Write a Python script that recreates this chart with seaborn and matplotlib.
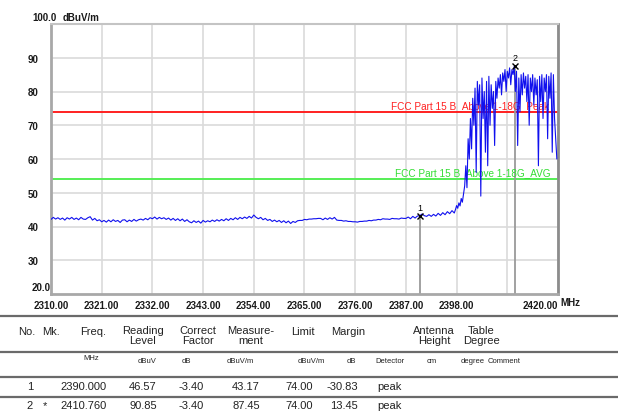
import numpy as np
import pandas as pd
import seaborn as sns
import matplotlib.pyplot as plt

# sweep 1: 2310.0 - 2397.5 MHz every 0.5 MHz (noise floor)
flat_start, flat_step = 2310.0, 0.5
flat_level = [
    42.1, 42.7, 42.2, 42.6, 42.1, 42.5, 41.9, 42.6, 42.2, 42.7, 42.1, 42.5, 42.0, 42.7, 42.2, 42.1, 42.6, 42.9, 41.9, 42.4,
    41.7, 42.0, 41.4, 41.8, 41.3, 41.9, 41.4, 42.0, 41.5, 41.8, 41.2, 41.9, 42.0, 41.4, 41.9, 41.5, 42.1, 41.6, 42.0, 42.2,
    41.9, 42.4, 42.0, 42.6, 42.3, 42.8, 42.2, 42.7, 42.3, 42.6, 42.1, 42.5, 41.9, 42.4, 41.8, 42.3, 41.7, 42.2, 41.5, 42.0,
    41.4, 41.1, 41.7, 41.2, 41.6, 41.0, 41.8, 41.3, 41.7, 41.4, 41.9, 41.5, 42.0, 41.6, 42.1, 41.7, 42.3, 41.8, 42.4, 42.0,
    42.6, 42.1, 42.7, 42.3, 42.8, 42.4, 43.0, 42.5, 43.4, 42.7, 42.3, 42.7, 42.0, 42.4, 41.8, 42.1, 41.5, 41.9, 41.4, 41.8,
    41.2, 41.7, 41.1, 41.6, 40.9, 41.5, 41.2, 41.7, 41.8, 41.8, 42.1, 42.0, 42.2, 42.2, 42.3, 42.3, 42.4, 42.4, 42.0, 42.5,
    42.1, 42.6, 42.2, 42.7, 41.9, 41.8, 41.8, 41.6, 41.7, 41.5, 41.5, 41.4, 41.4, 41.3, 41.5, 41.5, 41.6, 41.6, 41.8, 41.7,
    41.9, 41.9, 42.1, 42.0, 42.3, 42.2, 42.2, 42.1, 42.4, 42.3, 42.3, 42.2, 42.5, 42.4, 42.4, 42.8, 42.3, 43.0, 42.5, 43.1,
    43.2, 43.7, 43.2, 43.0, 43.5, 43.0, 43.6, 43.1, 43.9, 43.3, 44.1, 43.5, 44.4, 43.8, 44.7, 44.0,
]

# sweep 2: 2397.75 - 2420.0 MHz every 0.25 MHz (carrier)
band_start, band_step = 2397.75, 0.25
band_level = [
    45.0, 46.2, 45.4, 47.0, 46.1, 48.3, 47.2, 49.5,
    52.0, 58.0, 51.5, 66.0, 60.0, 72.0, 63.0, 78.0,
    70.0, 81.0, 56.0, 83.0, 76.0, 82.0, 49.0, 84.0,
    72.0, 80.0, 62.0, 83.0, 58.0, 84.5, 70.0, 82.0,
    75.0, 80.0, 64.0, 83.0, 78.0, 84.0, 81.0, 85.0,
    79.0, 85.5, 83.0, 86.5, 80.0, 86.0, 84.0, 87.0,
    82.0, 86.5, 85.0, 87.45, 80.0, 86.0, 64.0, 84.0,
    74.0, 85.0, 79.0, 85.5, 81.0, 84.5, 77.0, 85.0,
    70.0, 84.0, 80.0, 85.0, 76.0, 84.0, 79.0, 83.5,
    58.0, 84.5, 77.0, 85.0, 72.0, 84.0, 80.0, 85.0,
    66.0, 84.5, 78.0, 85.5, 62.0, 85.0, 72.0, 66.0, 60.0,
]

limit_peak = 74.0
limit_avg = 54.0
limit_peak_name = "FCC Part 15 B_Above 1-18G_Peak"
limit_avg_name = "FCC Part 15 B_Above 1-18G_AVG"

marker_no = ["1", "2"]
marker_freq = [2390.000, 2410.760]
marker_level = [43.17, 87.45]

x_ticks = [2310, 2321, 2332, 2343, 2354, 2365, 2376, 2387, 2398, 2409, 2420]
x_labels = ["2310.00", "2321.00", "2332.00", "2343.00", "2354.00", "2365.00",
            "2376.00", "2387.00", "2398.00", "", "2420.00"]
y_ticks = [30, 40, 50, 60, 70, 80, 90]

# result table
tbl_no = ["1", "2"]
tbl_mk = ["", "*"]
tbl_freq = ["2390.000", "2410.760"]
tbl_reading = ["46.57", "90.85"]
tbl_correct = ["-3.40", "-3.40"]
tbl_meas = ["43.17", "87.45"]
tbl_limit = ["74.00", "74.00"]
tbl_margin = ["-30.83", "13.45"]
tbl_detector = ["peak", "peak"]

freq = np.concatenate([flat_start + flat_step * np.arange(len(flat_level)),
                       band_start + band_step * np.arange(len(band_level))])
df = pd.DataFrame({"freq": freq, "level": flat_level + band_level})

sns.set_style("white")
plt.rcParams["font.family"] = ["Liberation Sans", "DejaVu Sans"]

W, H = 618, 414
fig = plt.figure(figsize=(W / 100, H / 100), dpi=100)

# table layer in pixel coords
tab = fig.add_axes([0, 0, 1, 1])
tab.set_xlim(0, W)
tab.set_ylim(H, 0)
tab.axis("off")
for yy in [317, 353, 378, 398]:
    tab.axhline(yy, color="#6a6a6a", lw=1.6)

hdr = dict(fontsize=8, color="#222222", ha="center", va="center")
tab.text(27, 332, "No.", **hdr)
tab.text(51, 332, "Mk.", **hdr)
tab.text(93, 332, "Freq.", **hdr)
for cx, txt in [(143, "Reading\nLevel"), (198, "Correct\nFactor"), (251, "Measure-\nment"),
                (434, "Antenna\nHeight"), (481, "Table\nDegree")]:
    tab.text(cx, 326, txt, fontsize=8, color="#222222", ha="center", va="top", linespacing=1.0)
tab.text(303, 332, "Limit", **hdr)
tab.text(348, 332, "Margin", **hdr)

units = dict(fontsize=5.5, color="#222222", ha="center", va="center")
tab.text(91, 359, "MHz", **units)
for cx, txt in [(147, "dBuV"), (186, "dB"), (240, "dBuV/m"), (311, "dBuV/m"), (351, "dB"),
                (390, "Detector"), (432, "cm"), (473, "degree"), (504, "Comment")]:
    tab.text(cx, 362, txt, **units)

row_y = [387, 406]
cell = dict(fontsize=8, color="#222222", va="center")
for i in range(len(tbl_no)):
    y = row_y[i]
    tab.text(30, y, tbl_no[i], ha="center", **cell)
    tab.text(45, y, tbl_mk[i], ha="center", **cell)
    tab.text(107, y, tbl_freq[i], ha="right", **cell)
    tab.text(143, y, tbl_reading[i], ha="center", **cell)
    tab.text(191, y, tbl_correct[i], ha="center", **cell)
    tab.text(246, y, tbl_meas[i], ha="center", **cell)
    tab.text(299, y, tbl_limit[i], ha="center", **cell)
    tab.text(358, y, tbl_margin[i], ha="right", **cell)
    tab.text(377, y, tbl_detector[i], ha="left", **cell)

# spectrum chart
ax = fig.add_axes([51 / W, 1 - 295 / H, (558 - 51) / W, (295 - 25) / H])
ax.set_xlim(2310, 2420)
ax.set_ylim(20, 100)
ax.set_xticks(x_ticks)
ax.set_xticklabels(x_labels)
ax.set_yticks(y_ticks)
ax.set_yticklabels([str(v) for v in y_ticks])
ax.grid(True, color="#dadada", lw=1.2)
ax.set_axisbelow(True)
ax.tick_params(length=0, labelsize=7, colors="#1a1a1a", pad=4)
for lab in ax.get_xticklabels() + ax.get_yticklabels():
    lab.set_fontweight("bold")
ax.get_xticklabels()[-1].set_horizontalalignment("right")
ax.tick_params(axis="y", pad=9)
ax.spines["left"].set_color("#a8a8a8")
ax.spines["left"].set_linewidth(2)
ax.spines["bottom"].set_color("#a8a8a8")
ax.spines["bottom"].set_linewidth(2)
ax.spines["top"].set_color("#c4c4c4")
ax.spines["top"].set_linewidth(1.5)
ax.spines["right"].set_color("#8c8c8c")
ax.spines["right"].set_linewidth(2)

ax.axhline(limit_peak, color="#ff2020", lw=1.4, zorder=2)
ax.axhline(limit_avg, color="#55ee55", lw=1.4, zorder=2)
ax.text(2418, limit_peak + 0.6, limit_peak_name, color="#ff2020", fontsize=7.2,
        ha="right", va="bottom")
ax.text(2418.3, limit_avg + 0.6, limit_avg_name, color="#33dd33", fontsize=7.2,
        ha="right", va="bottom")

for f, lv in zip(marker_freq, marker_level):
    ax.plot([f, f], [20, lv], color="#9a9a9a", lw=1.3, zorder=2)

sns.lineplot(data=df, x="freq", y="level", color="#1010ee", lw=0.8,
             estimator=None, sort=True, ax=ax, zorder=3)
ax.set_xlabel("")
ax.set_ylabel("")

for n, f, lv in zip(marker_no, marker_freq, marker_level):
    ax.plot(f, lv, marker="x", ms=4, mew=1, color="black", zorder=4)
    ax.annotate(n, (f, lv), xytext=(0, 3), textcoords="offset points",
                ha="center", va="bottom", fontsize=6.5, color="black")

txt = dict(fontsize=7, fontweight="bold", color="#1a1a1a")
ax.annotate("100.0", (2310, 100), xytext=(-19, 7), xycoords="data",
            textcoords="offset pixels", ha="left", va="center", **txt)
ax.annotate("dBuV/m", (2310, 100), xytext=(12, 7), textcoords="offset pixels",
            ha="left", va="center", **txt)
ax.annotate("20.0", (2310, 20), xytext=(-19, 7), textcoords="offset pixels",
            ha="left", va="center", **txt)
ax.annotate("MHz", (2420, 20), xytext=(2, -8), textcoords="offset pixels",
            ha="left", va="center", annotation_clip=False, **txt)

fig.savefig("out.png", dpi=100)
